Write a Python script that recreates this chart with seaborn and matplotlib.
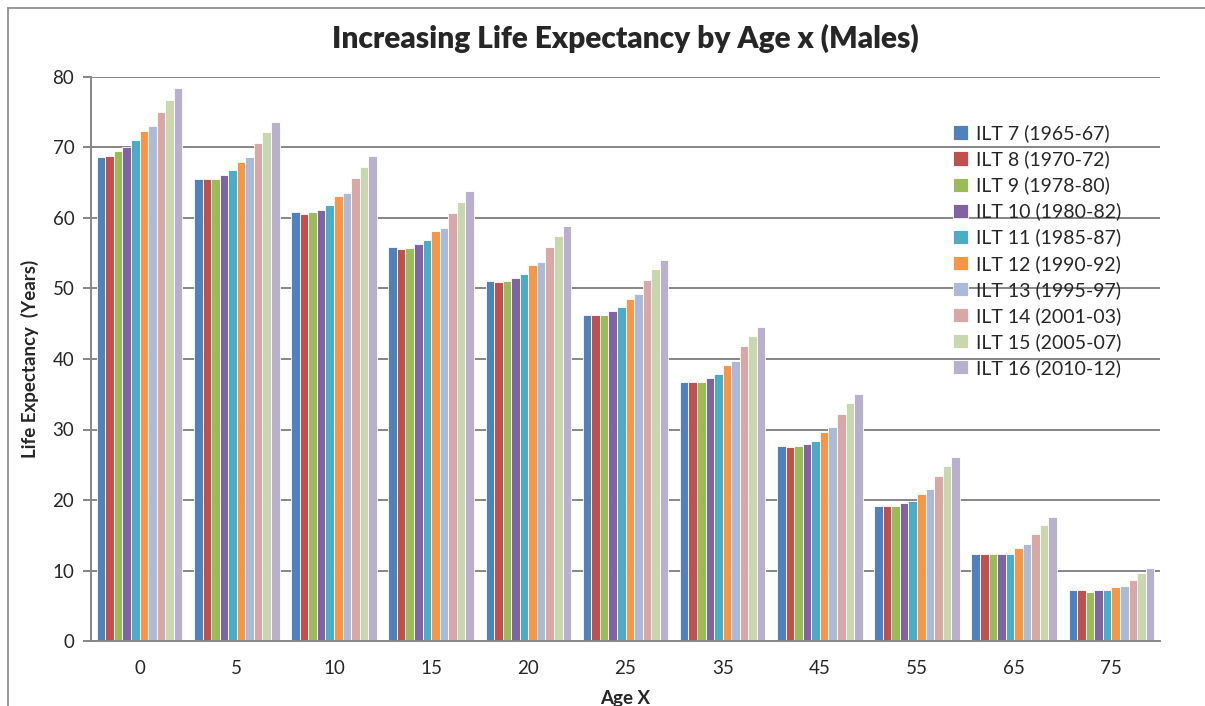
import numpy as np
import pandas as pd
import matplotlib
matplotlib.use("Agg")
import matplotlib.pyplot as plt
import seaborn as sns
from matplotlib.lines import Line2D

ages = ["0", "5", "10", "15", "20", "25", "35", "45", "55", "65", "75"]

series_names = [
    "ILT 7 (1965-67)", "ILT 8 (1970-72)", "ILT 9 (1978-80)", "ILT 10 (1980-82)",
    "ILT 11 (1985-87)", "ILT 12 (1990-92)", "ILT 13 (1995-97)", "ILT 14 (2001-03)",
    "ILT 15 (2005-07)", "ILT 16 (2010-12)",
]

ilt7 = [68.6, 65.6, 60.8, 55.9, 51.1, 46.3, 36.8, 27.6, 19.2, 12.3, 7.2]
ilt8 = [68.8, 65.5, 60.6, 55.6, 50.9, 46.2, 36.7, 27.5, 19.2, 12.3, 7.2]
ilt9 = [69.5, 65.6, 60.8, 55.8, 51.0, 46.3, 36.8, 27.6, 19.2, 12.3, 7.0]
ilt10 = [70.1, 66.1, 61.2, 56.3, 51.5, 46.8, 37.3, 28.0, 19.6, 12.4, 7.2]
ilt11 = [71.0, 66.8, 61.8, 56.9, 52.1, 47.4, 37.9, 28.4, 19.8, 12.4, 7.2]
ilt12 = [72.3, 68.0, 63.1, 58.1, 53.3, 48.5, 39.2, 29.7, 20.8, 13.2, 7.7]
ilt13 = [73.0, 68.6, 63.6, 58.6, 53.8, 49.2, 39.7, 30.4, 21.5, 13.7, 7.8]
ilt14 = [75.1, 70.7, 65.7, 60.7, 55.9, 51.2, 41.8, 32.2, 23.4, 15.2, 8.7]
ilt15 = [76.8, 72.2, 67.2, 62.2, 57.5, 52.7, 43.3, 33.7, 24.8, 16.4, 9.6]
ilt16 = [78.4, 73.6, 68.8, 63.8, 58.8, 54.1, 44.5, 35.1, 26.1, 17.6, 10.4]

all_series = [ilt7, ilt8, ilt9, ilt10, ilt11, ilt12, ilt13, ilt14, ilt15, ilt16]

colors = ["#4F81BD", "#C0504D", "#9BBB59", "#8064A2", "#4BACC6",
          "#F79646", "#AABAD7", "#D9A7A6", "#C8D7AD", "#B9B0CD"]

rows = []
for name, vals in zip(series_names, all_series):
    for a, v in zip(ages, vals):
        rows.append({"age": a, "series": name, "value": v})
df = pd.DataFrame(rows)

sns.set_style("white")
plt.rcParams["font.family"] = ["Lato", "DejaVu Sans"]

fig = plt.figure(figsize=(12.05, 7.06), dpi=100)
ax = fig.add_axes([91 / 1205, 65 / 706, 1069 / 1205, 564 / 706])

sns.barplot(data=df, x="age", y="value", hue="series", order=ages,
            hue_order=series_names, palette=colors, saturation=1,
            width=0.88, edgecolor="white", linewidth=0.6, ax=ax)

ax.set_ylim(0, 80)
ax.set_xlim(-0.5, len(ages) - 0.5)
ax.set_yticks(np.arange(0, 81, 10))
ax.yaxis.grid(True, color="#868686", linewidth=1.4)
ax.set_axisbelow(True)
for s in ["top", "right"]:
    ax.spines[s].set_visible(False)
for s in ["left", "bottom"]:
    ax.spines[s].set_color("#868686")
    ax.spines[s].set_linewidth(1.4)

ax.tick_params(axis="x", which="major", length=0, labelsize=13.5, pad=14)
ax.set_xticks(np.arange(-0.5, len(ages), 1), minor=True)
ax.tick_params(axis="x", which="minor", length=7, width=1.4, color="#868686")
ax.tick_params(axis="y", length=6, width=1.4, color="#868686", labelsize=13.5,
               direction="out", left=True, pad=6)

ax.set_xlabel("Age X", fontsize=13.5, fontweight="bold", labelpad=9)
ax.set_ylabel("Life Expectancy  (Years)", fontsize=13.5, fontweight="bold", labelpad=10)
ax.set_title("Increasing Life Expectancy by Age x (Males)", fontsize=21.5,
             fontweight="heavy", pad=21)

leg = ax.legend(loc="upper left", bbox_to_anchor=(0.79, 0.947), frameon=False,
                fontsize=14, handlelength=0.75, handleheight=0.75,
                handletextpad=0.45, labelspacing=0.42)

# chart-area border: only top and left edges are visible in the export
top_y = 1 - 8 / 706
left_x = 8 / 1205
fig.lines.append(Line2D([left_x, 1], [top_y, top_y], transform=fig.transFigure,
                        color="#868686", linewidth=1.2))
fig.lines.append(Line2D([left_x, left_x], [0, top_y], transform=fig.transFigure,
                        color="#868686", linewidth=1.2))

fig.savefig("out.png", dpi=100)
